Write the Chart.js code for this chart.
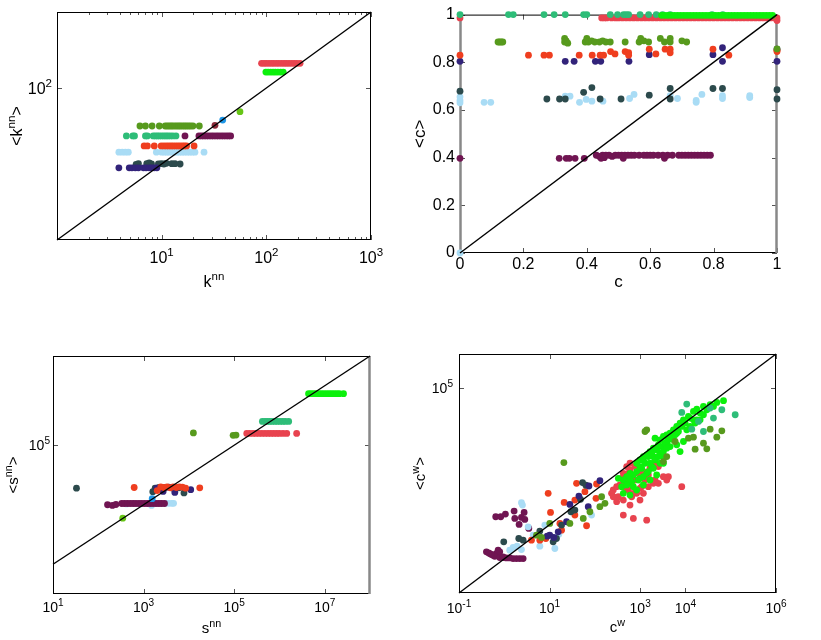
<!DOCTYPE html>
<html>
<head>
<meta charset="utf-8">
<script src="https://cdn.jsdelivr.net/npm/chart.js@4.4.0/dist/chart.umd.min.js"></script>
<style>
body { margin: 0; background: #fff; width: 821px; height: 640px; position: relative; overflow: hidden; }
canvas { position: absolute; }
</style>
</head>
<body>
<canvas id="knnChart" width="389" height="290" style="left:7px;top:0px"></canvas>
<canvas id="clustChart" width="392" height="303" style="left:410px;top:0px"></canvas>
<canvas id="snnChart" width="392" height="294" style="left:3px;top:346px"></canvas>
<canvas id="cwChart" width="392" height="296" style="left:409px;top:344px"></canvas>
<script>
// colours, one per network
var NAVY = '#32237a', SLATE = '#2c4a4c', SKY = '#a9dcf5', ORANGE = '#ef3e1f', TEAL = '#2ebd78';
var OLIVE = '#579a1d', PLUM = '#701552', CORAL = '#e8434f', LIME = '#0cf00c', BLUE = '#1e96e6';
var YGREEN = '#66c515', BROWN = '#8a2a3a';
var FONT = "'Liberation Sans', Arial, sans-serif";

// ---- k^nn vs <k^nn> ----
var kOlive = [[6.2,31.6],[7.0,31.6],[8.1,31.6],[9.5,31.6],[10.8,31.6],[11.3,31.6],[11.8,31.6],[12.3,31.6],[12.8,31.6],[13.4,31.6],[14.0,31.6],[14.6,31.6],[15.2,31.6],[15.9,31.6],[16.6,31.6],[17.3,31.6],[18.1,31.6],[18.9,31.6],[19.9,31.6],[22.9,31.6]];
var kTeal = [[4.6,23.4],[5.3,23.4],[5.5,23.4],[7.0,23.4],[7.3,23.4],[8.3,23.4],[8.7,23.4],[9.1,23.4],[9.5,23.4],[10.0,23.4],[10.5,23.4],[11.0,23.4],[11.5,23.4],[12.1,23.4],[12.8,23.4],[13.7,23.4]];
var kPlum = [[16.7,23.4],[22.7,23.4],[24.0,23.4],[25.3,23.4],[26.7,23.4],[28.2,23.4],[29.8,23.4],[31.4,23.4],[33.2,23.4],[35.0,23.4],[37.0,23.4],[39.0,23.4],[41.2,23.4],[43.4,23.4],[45.6,23.4]];
var kOrange = [[6.8,17.3],[7.3,17.3],[8.5,17.3],[9.9,17.3],[10.5,17.3],[11.1,17.3],[11.7,17.3],[12.3,17.3],[12.9,17.3],[13.6,17.3],[14.3,17.3],[15.0,17.3],[15.8,17.3],[16.5,17.3],[17.3,17.3],[20.4,17.3]];
var kSky = [[3.9,14.3],[4.2,14.3],[4.5,14.3],[4.8,14.3],[8.9,14.3],[10.0,14.3],[10.6,14.3],[11.2,14.3],[11.8,14.3],[12.5,14.3],[13.2,14.3],[14.0,14.3],[14.8,14.3],[15.6,14.3],[16.5,14.3],[17.5,14.3],[18.5,14.3],[19.6,14.3],[20.8,14.3],[25.4,14.3]];
var kNavy = [[3.9,8.9],[4.9,8.9],[5.2,8.9],[5.6,8.9],[6.0,8.9],[6.7,8.9],[7.1,8.9],[7.6,8.9],[8.0,8.9],[8.5,8.9],[9.0,8.9]];
var kSlate = [[5.7,9.9],[6.0,10.1],[7.2,10.1],[7.6,10.3],[8.0,10.0],[9.3,10.0],[9.9,10.1],[10.5,10.0],[11.1,10.2],[12.5,10.1],[13.4,10.1],[15.0,10.0]];
var kCoral = [[90,211],[95,211],[100,211],[106,211],[112,211],[118,211],[125,211],[132,211],[140,211],[148,211],[156,211],[165,211],[175,211],[185,211],[196,211],[210,211]];
var kLime = [[99,162],[104,162],[110,162],[116,162],[122,162],[129,162],[137,162],[145,162]];
var kBlue = [[38.3,37.8]];
var kYGreen = [[56,48.8]];
var kBrown = [[32.3,32.3]];

// ---- c vs <c> ----
var cTeal = [[0,1],[0.153,1],[0.168,1],[0.265,1],[0.297,1],[0.332,1],[0.39,1],[0.4,1],[0.474,1],[0.497,1],[0.516,1],[0.524,1],[0.532,1],[0.568,1],[0.595,1],[0.619,1],[0.639,1],[0.663,1],[0.795,1],[0.829,1]];
var cCoral = [[0,0.986],[0.447,0.986],[0.455,0.986],[0.463,0.986],[0.478,0.986],[0.49,0.986],[0.5,0.986],[0.512,0.986],[0.524,0.986],[0.536,0.986],[0.548,0.986],[0.56,0.986],[0.572,0.986],[0.584,0.986],[0.596,0.986],[0.608,0.986],[0.62,0.986],[0.632,0.986],[0.644,0.986],[0.656,0.986],[0.668,0.986],[0.68,0.986],[0.692,0.986],[0.704,0.986],[0.716,0.986],[0.728,0.986],[0.74,0.986],[0.752,0.986],[0.764,0.986],[0.776,0.986],[0.788,0.986],[0.8,0.986],[0.812,0.986],[0.824,0.986],[0.836,0.986],[0.848,0.986],[0.86,0.986],[0.872,0.986],[0.884,0.986],[0.896,0.986],[0.908,0.986],[0.92,0.986],[0.932,0.986],[0.944,0.986],[0.956,0.986],[0.968,0.986],[0.98,0.986],[0.992,0.986],[1.0,0.986],[1.0,0.975]];
var cLime = [[0.636,0.997],[0.646,0.997],[0.656,0.997],[0.666,0.997],[0.676,0.997],[0.686,0.997],[0.696,0.997],[0.706,0.997],[0.716,0.997],[0.726,0.997],[0.736,0.997],[0.746,0.997],[0.756,0.997],[0.766,0.997],[0.776,0.997],[0.786,0.997],[0.796,0.997],[0.806,0.997],[0.816,0.997],[0.826,0.997],[0.836,0.997],[0.846,0.997],[0.856,0.997],[0.866,0.997],[0.876,0.997],[0.886,0.997],[0.896,0.997],[0.906,0.997],[0.916,0.997],[0.926,0.997],[0.936,0.997],[0.946,0.997],[0.956,0.997],[0.966,0.997],[0.976,0.997],[0.986,0.997]];
var cOlive = [[0.12,0.885],[0.125,0.885],[0.13,0.885],[0.135,0.885],[0.33,0.9],[0.33,0.885],[0.335,0.89],[0.34,0.88],[0.395,0.885],[0.4,0.9],[0.405,0.885],[0.415,0.89],[0.425,0.885],[0.44,0.885],[0.45,0.89],[0.46,0.885],[0.474,0.885],[0.521,0.885],[0.565,0.885],[0.57,0.9],[0.58,0.89],[0.595,0.885],[0.632,0.9],[0.645,0.885],[0.663,0.9],[0.663,0.885],[0.7,0.89],[0.715,0.885],[1.0,0.856]];
var cOrange = [[0,0.83],[0.216,0.83],[0.265,0.83],[0.282,0.83],[0.376,0.83],[0.417,0.83],[0.442,0.83],[0.453,0.83],[0.475,0.845],[0.489,0.835],[0.521,0.845],[0.532,0.84],[0.532,0.83],[0.597,0.855],[0.618,0.835],[0.647,0.855],[0.663,0.855],[0.663,0.84],[0.798,0.855],[0.848,0.83],[1.0,0.845],[1.0,0.85]];
var cNavy = [[0,0.804],[0.332,0.804],[0.36,0.804],[0.427,0.804],[0.444,0.804],[0.533,0.804],[0.597,0.832],[0.798,0.832],[0.828,0.861],[0.828,0.804],[1.0,0.804],[1.0,0.855]];
var cSlate = [[0,0.679],[0.274,0.646],[0.314,0.646],[0.332,0.646],[0.39,0.674],[0.416,0.694],[0.442,0.646],[0.508,0.646],[0.597,0.662],[0.663,0.69],[0.663,0.646],[0.798,0.69],[0.828,0.69],[1.0,0.685],[1.0,0.646]];
var cSky = [[0,0.655],[0,0.64],[0,0.63],[0,0],[0.076,0.632],[0.097,0.632],[0.332,0.658],[0.347,0.658],[0.377,0.632],[0.398,0.644],[0.416,0.637],[0.451,0.637],[0.535,0.648],[0.549,0.665],[0.663,0.66],[0.686,0.648],[0.745,0.64],[0.745,0.632],[0.763,0.665],[0.828,0.66],[0.828,0.648],[0.914,0.66],[0.914,0.652]];
var cPlum = [[0,0.397],[0.313,0.397],[0.335,0.397],[0.345,0.397],[0.363,0.397],[0.392,0.397],[0.43,0.41],[0.44,0.405],[0.445,0.397],[0.45,0.41],[0.455,0.4],[0.46,0.41],[0.47,0.41],[0.48,0.405],[0.49,0.41],[0.5,0.41],[0.51,0.41],[0.515,0.397],[0.52,0.41],[0.53,0.41],[0.54,0.41],[0.55,0.41],[0.565,0.41],[0.58,0.41],[0.59,0.41],[0.6,0.41],[0.61,0.41],[0.625,0.41],[0.64,0.41],[0.645,0.397],[0.655,0.41],[0.67,0.41],[0.69,0.41],[0.7,0.41],[0.71,0.41],[0.72,0.41],[0.73,0.41],[0.74,0.41],[0.75,0.41],[0.76,0.41],[0.77,0.41],[0.78,0.41],[0.79,0.41]];

// ---- s^nn vs <s^nn> ----
var sLime = [[4.4e6,5.4e6],[5.0e6,5.4e6],[5.7e6,5.4e6],[6.5e6,5.4e6],[7.4e6,5.4e6],[8.4e6,5.4e6],[9.6e6,5.4e6],[1.1e7,5.4e6],[1.25e7,5.4e6],[1.42e7,5.4e6],[1.62e7,5.4e6],[1.85e7,5.4e6],[2.1e7,5.4e6],[2.6e7,5.4e6]];
var sTeal = [[4.2e5,6.3e5],[4.8e5,6.3e5],[5.4e5,6.3e5],[6.1e5,6.3e5],[6.9e5,6.3e5],[7.9e5,6.3e5],[9.0e5,6.3e5],[1.03e6,6.3e5],[1.18e6,6.3e5],[1.35e6,6.3e5],[1.6e6,6.3e5]];
var sCoral = [[1.9e5,2.5e5],[2.2e5,2.5e5],[2.6e5,2.5e5],[3.0e5,2.5e5],[3.5e5,2.5e5],[4.1e5,2.5e5],[4.8e5,2.5e5],[5.6e5,2.5e5],[6.5e5,2.5e5],[7.5e5,2.5e5],[8.7e5,2.5e5],[1.0e6,2.5e5],[1.2e6,2.5e5],[1.45e6,2.5e5],[2.4e6,2.5e5]];
var sOlive = [[1.26e4,2.6e5],[9.5e4,2.15e5],[1.1e5,2.2e5]];
var sSlate = [[33,3.6e3],[1.6e3,2.75e3],[1.8e3,3.6e3],[2.2e3,3.8e3],[3.0e3,3.8e3],[4.5e3,3.6e3],[6.0e3,3.7e3],[7.8e3,2.5e3]];
var sOrange = [[620,3.8e3],[2.0e3,3.0e3],[2.4e3,4.0e3],[2.8e3,3.8e3],[3.3e3,4.0e3],[3.9e3,3.7e3],[4.5e3,4.0e3],[5.3e3,3.8e3],[6.2e3,4.0e3],[7.2e3,3.9e3],[8.5e3,3.6e3],[1.74e4,3.7e3]];
var sNavy = [[1.95e3,3.6e3],[2.7e3,2.8e3],[3.6e3,3.9e3],[4.9e3,2.6e3],[1.1e4,3.2e3]];
var sBlue = [[1.55e3,1.6e3]];
var sPlum = [[160,1.0e3],[205,950],[245,1.02e3],[330,1.1e3],[380,1.1e3],[440,1.1e3],[510,1.1e3],[590,1.1e3],[680,1.1e3],[790,1.1e3],[910,1.1e3],[1050,1.1e3],[1220,1.1e3],[1400,1.1e3],[1620,1.1e3],[1880,1.1e3],[2170,1.1e3],[2500,1.1e3],[2900,1.1e3]];
var sSky = [[420,1.07e3],[600,1.1e3],[850,1.07e3],[1.2e3,1.1e3],[1.5e3,950],[1.9e3,1.1e3],[2.4e3,1.1e3],[3.0e3,1.12e3],[3.6e3,1.12e3],[4.2e3,1.12e3],[4.6e3,1.12e3]];
var sYGreen = [[347,355]];

// ---- c^w vs <c^w> ----
var wLime = [[69340,42850],[49320,38280],[35160,32660],[25000,29170],[17820,24380],[15030,20800],[11640,14830],[12680,13250],[9036,11840],[7621,9460],[6427,7550],[5431,6030],[4581,4810],[3864,4300],[3260,3840],[2133,3430],[2754,3060],[2529,2180],[1959,1740],[1652,1390],[1396,1110],[1178,991],[993,791],[1282,631],[1081,450],[838,359],[708,286],[597,321],[504,256],[425,204],[548,163],[708,130],[838,104],[425,83],[1178,146],[1652,204],[2322,286],[3260,991],[7621,1390],[4581,1950],[9036,2740],[5431,3060],[21090,18580],[29650,23280],[41590,29170],[2754,1240],[1799,504],[1396,321],[993,229],[650,182],[390,130],[597,74],[330,229],[25000,16600],[17820,11840],[6427,4810],[3864,2443],[10690,6030],[15030,11840],[1959,991],[3260,631],
  [1178,791],[1517,991],[1799,1240],[2322,1556],[2994,1950],[3548,2443],[4207,3060],[4988,3840],[5910,4300],[7000,5380],[8300,7550],[9840,9460],[993,504],[838,631],[1652,631],[2133,791],[2529,991],[3260,1390],[3864,1740],[1178,256],[912,204],[597,204],[504,146],[1517,359],[1959,450],[2754,631],[6427,2180],[12680,7550],[16370,9460],[21090,11840]];
var wCoral = [[255,104],[234,83],[303,130],[359,146],[462,182],[504,504],[597,402],[650,256],[769,204],[912,321],[993,450],[1178,359],[1282,256],[1517,286],[1652,450],[2133,564],[2529,504],[993,116],[838,83],[597,37.7],[425,19.1],[708,15.3],[1396,13.6],[4207,256],[8300,130],[993,52.8],[303,47.2],[548,104],[1178,83],[425,52.8],[1959,163],[1282,204],[2529,163],[330,66],[650,66],[597,631],[769,504],[425,321],[3864,204],
  [390,229],[504,116],[708,83],[1081,130],[1517,130],[2133,204],[3260,256],[548,321],[425,130],[255,66]];
var wOlive = [[1396,6030],[1282,5380],[20.7,661],[141,66],[167,42.2],[129,33.7],[77.8,24],[55.4,15.3],[28.1,10.9],[6.63,4.23],[5.14,4.95],[10.1,10.9],[11640,3430],[15030,3660],[25000,2443],[16370,1630],[29650,1665],[49320,3660],[63680,5620],[35160,6300],[3260,706],[3864,991],[5910,2740]];
var wTeal = [[10690,34200],[8300,19450],[63680,23280],[125600,16600],[25000,5380],[19410,10590],[13800,6300],[41590,13250],[35160,26060]];
var wPlum = [[0.647,17.1],[0.836,17.1],[1.059,20.5],[1.648,25.1],[1.706,15.3],[2.393,16.3],[2.742,22.9],[2.837,14.3],[2.125,10.2],[3.478,7.77],[0.403,1.602],[0.476,1.432],[0.565,1.279],[0.67,1.432],[0.73,1.794],[0.794,1.602],[0.615,1.194],[0.794,1.092],[0.94,1.092],[1.114,1.067],[1.321,1.067],[1.566,1.021],[1.855,1.021],[2.198,1.021],[2.606,1.021],[0.94,1.142],[0.52,1.35],[0.45,1.5]];
var wSky = [[2.393,44.1],[2.518,37.7],[3.363,8.69],[7.86,9.73],[6.09,2.35],[13.08,2.01],[1.566,2.15],[2.393,1.875],[1.919,2.35],[16.03,5.3],[84.7,19.1],[4.34,4.95],[1.321,1.794]];
var wNavy = [[129.4,195],[74,136],[44.4,69.2],[28.1,39.4],[71.4,33.7],[23.7,12.2],[10.1,4.95],[8.85,4.62],[15.5,6.2],[12.4,4.23]];
var wSlate = [[53.5,171],[63.4,143],[48.3,55.3],[29.5,24],[6.09,6.49],[14.2,3.95],[12,3.15],[2.09,3.95],[0.973,3.15],[2.606,3.53],[18.4,9.73],[36.2,26.9]];
var wOrange = [[9.31,83],[39.4,163],[109,156],[10.5,22.9],[21,45.1],[36.2,19.1],[60.3,92.9],[65.6,9.31],[16.9,10.9],[18.4,6.93],[6.09,3.53],[3.98,3.53],[106,59.2],[8.26,3.95],[36.2,52.8]];

// tick values
var knnMinor = [2,3,4,5,6,7,8,9,20,30,40,50,60,70,80,90,200,300,400,500,600,700,800,900];
var linTicks = [0, 0.2, 0.4, 0.6, 0.8, 1];

function dots(arr, color, order) {
  return {
    data: arr.map(function (p) { return {x: p[0], y: p[1]}; }),
    backgroundColor: color, borderWidth: 0,
    pointRadius: 3.4, pointHoverRadius: 3.4, order: order, clip: false
  };
}
function diag(lo, hi) {
  return {
    data: [{x: lo, y: lo}, {x: hi, y: hi}],
    showLine: true, borderColor: '#000', borderWidth: 1.4,
    pointRadius: 0, order: 0, clip: false
  };
}

// rich = true: labels and titles are drawn by the superscript plugin below
function axis(o) {
  return {
    type: o.type, min: o.min, max: o.max, position: o.pos,
    grid: {display: false, drawTicks: false},
    border: {display: false},
    ticks: {
      display: !o.rich,
      color: '#000', font: {family: FONT, size: o.fs}, padding: o.tickPad,
      maxRotation: 0, autoSkip: false,
      callback: function (v) { return String(v); }
    },
    title: {display: !o.rich, text: o.title, color: '#000', font: {family: FONT, size: o.ts},
            padding: {top: o.titlePad, bottom: o.titlePad}},
    afterBuildTicks: function (s) { s.ticks = o.ticks.map(function (v) { return {value: v}; }); },
    afterFit: function (s) { if (o.pos === 'left') s.width = o.size; else s.height = o.size; }
  };
}

// box round the plot with inward ticks on all four sides
var framePlugin = {
  id: 'frame',
  beforeDatasetsDraw: function (chart, args, opts) {
    var ctx = chart.ctx, a = chart.chartArea, sx = chart.scales.x, sy = chart.scales.y;
    function seg(x1, y1, x2, y2) { ctx.beginPath(); ctx.moveTo(x1, y1); ctx.lineTo(x2, y2); ctx.stroke(); }
    ctx.save();
    ctx.strokeStyle = '#555'; ctx.lineWidth = 1;
    sx.ticks.forEach(function (t) {
      var px = Math.round(sx.getPixelForValue(t.value)) + 0.5;
      seg(px, a.bottom, px, a.bottom - 5); seg(px, a.top, px, a.top + 5);
    });
    (opts.minorX || []).forEach(function (v) {
      var px = Math.round(sx.getPixelForValue(v)) + 0.5;
      seg(px, a.bottom, px, a.bottom - 3); seg(px, a.top, px, a.top + 3);
    });
    sy.ticks.forEach(function (t) {
      var py = Math.round(sy.getPixelForValue(t.value)) + 0.5;
      seg(a.left, py, a.left + 5, py); seg(a.right, py, a.right - 5, py);
    });
    ctx.strokeStyle = '#000';
    ctx.strokeRect(a.left + 0.5, a.top + 0.5, a.right - a.left - 1, a.bottom - a.top - 1);
    ctx.strokeStyle = '#888'; ctx.lineWidth = 2.5;
    if (opts.grayLeft) seg(a.left + 0.5, a.top, a.left + 0.5, a.bottom);
    if (opts.grayRight) seg(a.right - 0.5, a.top, a.right - 0.5, a.bottom);
    ctx.restore();
  }
};

// text with raised parts: parts = [[text, isSup], ...]
function drawRich(ctx, parts, x, y, fs, align, rotate) {
  var w = 0;
  parts.forEach(function (p) {
    ctx.font = (p[1] ? fs * 0.72 : fs) + 'px ' + FONT;
    w += ctx.measureText(p[0]).width;
  });
  ctx.save();
  ctx.translate(x, y);
  if (rotate) ctx.rotate(-Math.PI / 2);
  ctx.fillStyle = '#000';
  ctx.textBaseline = 'alphabetic';
  ctx.textAlign = 'left';
  var cx = align === 'right' ? -w : -w / 2;
  parts.forEach(function (p) {
    ctx.font = (p[1] ? fs * 0.72 : fs) + 'px ' + FONT;
    ctx.fillText(p[0], cx, p[1] ? -fs * 0.42 : 0);
    cx += ctx.measureText(p[0]).width;
  });
  ctx.restore();
}
function powParts(v) { return [['10', false], [String(Math.round(Math.log10(v))), true]]; }

var supPlugin = {
  id: 'sup',
  afterDraw: function (chart, args, o) {
    if (!o.xTitle) return;
    var ctx = chart.ctx, a = chart.chartArea, sx = chart.scales.x, sy = chart.scales.y;
    sx.ticks.forEach(function (t) {
      drawRich(ctx, powParts(t.value), sx.getPixelForValue(t.value), a.bottom + o.xTickDy, o.fs, 'center', false);
    });
    sy.ticks.forEach(function (t) {
      drawRich(ctx, powParts(t.value), a.left - o.yTickGap, sy.getPixelForValue(t.value) + o.fs * 0.36, o.fs, 'right', false);
    });
    drawRich(ctx, o.xTitle, (a.left + a.right) / 2, a.bottom + o.xTitleDy, o.ts, 'center', false);
    drawRich(ctx, o.yTitle, a.left - o.yTitleDx, (a.top + a.bottom) / 2, o.ts, 'center', true);
  }
};

function makeChart(id, datasets, xo, yo, pad, frameOpts, supOpts) {
  return new Chart(document.getElementById(id), {
    type: 'scatter',
    data: {datasets: datasets},
    options: {
      responsive: false, animation: false, devicePixelRatio: 1,
      layout: {padding: pad},
      scales: {x: axis(xo), y: axis(yo)},
      plugins: {legend: {display: false}, tooltip: {enabled: false}, frame: frameOpts, sup: supOpts}
    },
    plugins: [framePlugin, supPlugin]
  });
}

makeChart('knnChart', [
  diag(1, 1000),
  dots(kLime, LIME, 1), dots(kCoral, CORAL, 2), dots(kYGreen, YGREEN, 1), dots(kBlue, BLUE, 1), dots(kBrown, BROWN, 1),
  dots(kOlive, OLIVE, 3), dots(kPlum, PLUM, 3), dots(kTeal, TEAL, 4), dots(kOrange, ORANGE, 3),
  dots(kSky, SKY, 3), dots(kSlate, SLATE, 4), dots(kNavy, NAVY, 3)
],
  {type: 'logarithmic', min: 1, max: 1000, pos: 'bottom', ticks: [10, 100, 1000], rich: true, size: 50},
  {type: 'logarithmic', min: 1, max: 1000, pos: 'left', ticks: [100], rich: true, size: 50},
  {left: 0, top: 12, right: 25, bottom: 0}, {minorX: knnMinor},
  {fs: 16, ts: 16, xTickDy: 23, yTickGap: 5, xTitleDy: 47, yTitleDx: 35,
   xTitle: [['k', false], ['nn', true]], yTitle: [['<k', false], ['nn', true], ['>', false]]});

makeChart('clustChart', [
  diag(0, 1),
  dots(cTeal, TEAL, 2), dots(cLime, LIME, 1), dots(cCoral, CORAL, 3), dots(cOlive, OLIVE, 3),
  dots(cOrange, ORANGE, 3), dots(cNavy, NAVY, 3), dots(cSlate, SLATE, 3), dots(cSky, SKY, 4), dots(cPlum, PLUM, 3)
],
  {type: 'linear', min: 0, max: 1, pos: 'bottom', ticks: linTicks, fs: 16, tickPad: 2, title: 'c', ts: 17, titlePad: 10, size: 50},
  {type: 'linear', min: 0, max: 1, pos: 'left', ticks: linTicks, fs: 16, tickPad: 5, title: '<c>', ts: 17, titlePad: 0, size: 50},
  {left: 0, top: 12, right: 25, bottom: 0}, {grayLeft: true, grayRight: true}, {});

makeChart('snnChart', [
  diag(10, 1e8),
  dots(sLime, LIME, 1), dots(sTeal, TEAL, 2), dots(sCoral, CORAL, 3), dots(sOlive, OLIVE, 1),
  dots(sSlate, SLATE, 3), dots(sNavy, NAVY, 2), dots(sOrange, ORANGE, 1), dots(sBlue, BLUE, 2),
  dots(sPlum, PLUM, 3), dots(sSky, SKY, 4), dots(sYGreen, YGREEN, 1)
],
  {type: 'logarithmic', min: 10, max: 1e8, pos: 'bottom', ticks: [10, 1e3, 1e5, 1e7], rich: true, size: 46},
  {type: 'logarithmic', min: 1, max: 1e8, pos: 'left', ticks: [1e5], rich: true, size: 50},
  {left: 0, top: 10, right: 25, bottom: 0}, {grayRight: true},
  {fs: 14, ts: 15, xTickDy: 18, yTickGap: 3, xTitleDy: 39, yTitleDx: 35,
   xTitle: [['s', false], ['nn', true]], yTitle: [['<s', false], ['nn', true], ['>', false]]});

makeChart('cwChart', [
  diag(0.1, 1e6),
  dots(wOlive, OLIVE, 1), dots(wTeal, TEAL, 1), dots(wLime, LIME, 2), dots(wCoral, CORAL, 3),
  dots(wNavy, NAVY, 1), dots(wSlate, SLATE, 2), dots(wOrange, ORANGE, 2), dots(wSky, SKY, 3), dots(wPlum, PLUM, 3)
],
  {type: 'logarithmic', min: 0.1, max: 1e6, pos: 'bottom', ticks: [0.1, 10, 1e3, 1e4, 1e6], rich: true, size: 47},
  {type: 'logarithmic', min: 0.1, max: 1e6, pos: 'left', ticks: [1e5], rich: true, size: 50},
  {left: 0, top: 10, right: 25, bottom: 0}, {},
  {fs: 14, ts: 15, xTickDy: 20, yTickGap: 6, xTitleDy: 39, yTitleDx: 34,
   xTitle: [['c', false], ['w', true]], yTitle: [['<c', false], ['w', true], ['>', false]]});
</script>
</body>
</html>
